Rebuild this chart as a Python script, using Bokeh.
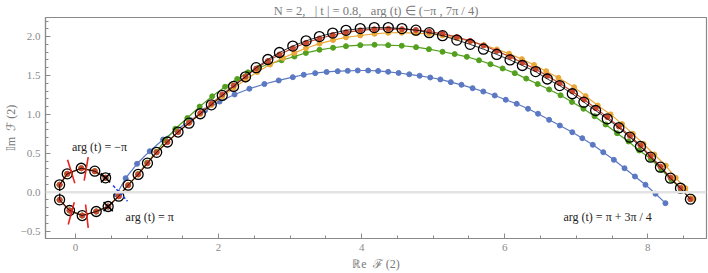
from bokeh.plotting import figure
from bokeh.models import FixedTicker, Span, Range1d
from bokeh.core.properties import value
from bokeh.embed import file_html
from bokeh.resources import INLINE

# ---------------- data ----------------
loop_x = [0.42, 0.269, 0.08, -0.116, -0.223, -0.223, -0.084, 0.093, 0.289, 0.456, 0.604]
loop_y = [0.185, 0.27, 0.308, 0.236, 0.095, -0.098, -0.235, -0.3, -0.248, -0.184, -0.051]

black_arc_x = [0.735, 0.875, 1.005, 1.134, 1.284, 1.433, 1.586, 1.744, 1.898, 2.051, 2.209,
               2.376, 2.525, 2.688, 2.85, 3.037, 3.223, 3.409, 3.595, 3.781, 3.98, 4.176,
               4.372, 4.563, 4.758, 4.944, 5.13, 5.33, 5.516, 5.702, 5.888, 6.074, 6.246,
               6.432, 6.595, 6.767, 6.944, 7.106, 7.27, 7.433, 7.595, 7.748, 7.897, 8.037,
               8.176, 8.316, 8.456, 8.595]
black_arc_y = [0.09, 0.228, 0.373, 0.512, 0.645, 0.773, 0.887, 1.008, 1.123, 1.243, 1.359,
               1.483, 1.6, 1.705, 1.795, 1.878, 1.945, 2.0, 2.045, 2.08, 2.103, 2.115,
               2.115, 2.103, 2.082, 2.05, 2.012, 1.955, 1.9, 1.838, 1.77, 1.70, 1.628,
               1.55, 1.455, 1.37, 1.265, 1.157, 1.05, 0.943, 0.828, 0.707, 0.587, 0.45,
               0.321, 0.18, 0.051, -0.09]

red_arc_x = black_arc_x
red_arc_y = [0.09, 0.228, 0.373, 0.512, 0.645, 0.773, 0.893, 1.018, 1.138, 1.257, 1.372,
             1.487, 1.59, 1.685, 1.77, 1.85, 1.92, 1.975, 2.02, 2.055, 2.08, 2.095,
             2.10, 2.095, 2.085, 2.065, 2.035, 1.995, 1.945, 1.885, 1.815, 1.74, 1.665,
             1.58, 1.495, 1.40, 1.295, 1.19, 1.08, 0.965, 0.845, 0.725, 0.60, 0.465,
             0.33, 0.19, 0.055, -0.09]

orange_arc_x = [0.735, 0.875, 1.005, 1.134, 1.284, 1.433, 1.586, 1.744, 1.898, 2.051, 2.209,
                2.376, 2.54, 2.72, 2.90, 3.06, 3.22, 3.41, 3.60, 3.78, 3.98, 4.18, 4.37,
                4.56, 4.76, 4.94, 5.13, 5.33, 5.52, 5.71, 5.89, 6.06, 6.24, 6.41, 6.58,
                6.75, 6.97, 7.13, 7.30, 7.48, 7.64, 7.79, 7.94, 8.09, 8.25, 8.39, 8.525,
                8.64]
orange_arc_y = [0.09, 0.228, 0.373, 0.512, 0.645, 0.773, 0.89, 1.005, 1.12, 1.23, 1.34,
                1.445, 1.545, 1.64, 1.725, 1.79, 1.85, 1.91, 1.955, 1.99, 2.014, 2.035,
                2.049, 2.05, 2.045, 2.035, 2.014, 1.98, 1.94, 1.89, 1.835, 1.78, 1.71,
                1.635, 1.555, 1.47, 1.35, 1.235, 1.114, 1.0, 0.875, 0.75, 0.62, 0.485,
                0.343, 0.185, 0.051, -0.085]

green_arc_x = [0.735, 0.875, 1.0, 1.13, 1.255, 1.395, 1.563, 1.735, 1.91, 2.09, 2.26,
               2.41, 2.56, 2.71, 2.88, 3.06, 3.22, 3.41, 3.6, 3.78, 3.98, 4.18, 4.37,
               4.56, 4.76, 4.94, 5.13, 5.30, 5.47, 5.64, 5.80, 5.97, 6.14, 6.30, 6.46,
               6.62, 6.78, 6.94, 7.1, 7.255, 7.41, 7.57, 7.73, 7.88, 8.04, 8.19, 8.33,
               8.46, 8.595]
green_arc_y = [0.09, 0.235, 0.38, 0.52, 0.67, 0.815, 0.953, 1.10, 1.232, 1.355, 1.455,
               1.54, 1.60, 1.65, 1.695, 1.744, 1.79, 1.83, 1.856, 1.877, 1.89, 1.895,
               1.89, 1.882, 1.864, 1.838, 1.805, 1.775, 1.74, 1.695, 1.645, 1.59, 1.53,
               1.46, 1.39, 1.32, 1.245, 1.16, 1.072, 0.977, 0.87, 0.758, 0.652, 0.536,
               0.429, 0.288, 0.16, 0.04, -0.09]

blue_arc_x = [0.572, 0.70, 0.86, 1.037, 1.224, 1.41, 1.61, 1.81, 2.014, 2.223, 2.43, 2.64,
              2.84, 3.037, 3.19, 3.35, 3.51, 3.665, 3.805, 3.945, 4.09, 4.23, 4.37, 4.516,
              4.665, 4.81, 4.958, 5.1, 5.246, 5.395, 5.55, 5.70, 5.86, 6.014, 6.167,
              6.325, 6.465, 6.62, 6.77, 6.944, 7.084, 7.23, 7.377, 7.525, 7.674, 7.82,
              7.967, 8.107, 8.246]
blue_arc_y = [-0.03, 0.18, 0.365, 0.527, 0.677, 0.80, 0.925, 1.05, 1.165, 1.256, 1.33,
              1.39, 1.436, 1.478, 1.509, 1.53, 1.545, 1.555, 1.56, 1.564, 1.564, 1.558,
              1.547, 1.532, 1.515, 1.496, 1.474, 1.449, 1.414, 1.38, 1.337, 1.294, 1.243,
              1.188, 1.136, 1.072, 1.008, 0.93, 0.857, 0.771, 0.694, 0.609, 0.514, 0.416,
              0.308, 0.202, 0.095, -0.02, -0.141]

# tick marks drawn on the curve (red slashes, black crosses, blue cross)
slash_x0 = [-0.112, 0.177, -0.018, 0.14]
slash_y0 = [0.416, 0.45, -0.129, -0.158]
slash_x1 = [-0.01, 0.121, -0.102, 0.177]
slash_y1 = [0.116, 0.15, -0.415, -0.458]
cross_x = [0.42, 0.456]
cross_y = [0.185, -0.184]
bcross_x0 = [0.525]
bcross_y0 = [0.086]
bcross_x1 = [0.726]
bcross_y1 = [-0.116]

NB = "\u00a0"
label_text = ["arg" + NB + "(t)" + NB + "=" + NB + "−π",
              "arg" + NB + "(t)" + NB + "=" + NB + "π",
              "arg" + NB + "(t)" + NB + "=" + NB + "π" + NB + "+" + NB + "3π" + NB + "/" + NB + "4"]
label_x = [-0.05, 0.70, 6.82]
label_y = [0.58, -0.32, -0.32]

title_text = ("N" + NB + "=" + NB + "2," + NB * 3 + "|" + NB + "t" + NB + "|" + NB + "=" + NB +
              "0.8," + NB * 3 + "arg" + NB + "(t)" + NB + "∈" + NB + "(−π" + NB + "," + NB +
              "7π" + NB + "/" + NB + "4)")

x_ticks = [0, 2, 4, 6, 8]
y_ticks = [-0.5, 0.0, 0.5, 1.0, 1.5, 2.0]
y_tick_labels = ["−0.5", "0.0", "0.5", "1.0", "1.5", "2.0"]

# ---------------- figure ----------------
SERIF = "Liberation Serif"
GRAY = "#8a8a8a"

p = figure(width=708, height=273, output_backend="svg", toolbar_location=None,
           x_range=Range1d(-0.42, 8.82), y_range=Range1d(-0.595, 2.245),
           min_border_left=44, min_border_right=2, min_border_top=17, min_border_bottom=35)
p.title.text = title_text
p.title.align = "center"
p.title.text_font = SERIF
p.title.text_font_size = "12.5px"
p.title.text_font_style = "normal"
p.title.text_color = "#7a7a7a"
p.title.standoff = 0

p.grid.visible = False
p.background_fill_color = "white"
p.border_fill_color = "white"
p.outline_line_color = GRAY
p.outline_line_width = 1.2

for ax in (p.xaxis[0], p.yaxis[0]):
    ax.axis_line_color = GRAY
    ax.axis_line_width = 1.2
    ax.major_tick_line_color = GRAY
    ax.minor_tick_line_color = GRAY
    ax.major_tick_in = 5
    ax.major_tick_out = 0
    ax.minor_tick_in = 3
    ax.minor_tick_out = 0
    ax.major_label_text_font = SERIF
    ax.major_label_text_font_size = "11px"
    ax.major_label_text_color = "#8a8a8a"
    ax.axis_label_text_font = SERIF
    ax.axis_label_text_font_size = "12px"
    ax.axis_label_text_font_style = "normal"
    ax.axis_label_text_color = "#7a7a7a"

p.xaxis.ticker = FixedTicker(ticks=x_ticks, minor_ticks=[v * 0.5 for v in range(-1, 18)])
p.yaxis.ticker = FixedTicker(ticks=y_ticks, minor_ticks=[v * 0.1 for v in range(-5, 23)])
p.yaxis.major_label_overrides = {t: s for t, s in zip(y_ticks, y_tick_labels)}
p.xaxis.major_label_standoff = 5
p.yaxis.major_label_standoff = 5
p.xaxis.axis_label = "ℝe" + NB + NB + "ℱ" + NB + "(2)"
p.yaxis.axis_label = "𝕀m" + NB + NB + "ℱ" + NB + "(2)"
p.xaxis.axis_label_standoff = 3
p.yaxis.axis_label_standoff = 0

p.add_layout(Span(location=0, dimension="width", line_color="#e3e3e3", line_width=2.5))

BLUE = "#5b78c2"
GREEN = "#52a01e"
ORANGE = "#eaa83a"
RED = "#c8452f"

def series(xs, ys, color):
    p.line(xs, ys, line_color=color, line_width=1.2)
    p.scatter(xs, ys, size=5, fill_color=color, line_color=color)

series(loop_x + blue_arc_x, loop_y + blue_arc_y, BLUE)
series(loop_x + green_arc_x, loop_y + green_arc_y, GREEN)
series(loop_x + orange_arc_x, loop_y + orange_arc_y, ORANGE)
series(loop_x + red_arc_x, loop_y + red_arc_y, RED)

bx = loop_x + black_arc_x
by = loop_y + black_arc_y
p.line(bx, by, line_color="black", line_width=0.8)
p.scatter(bx, by, size=10, fill_color=None, line_color="black", line_width=1.3)

p.segment(slash_x0, slash_y0, slash_x1, slash_y1, line_color="#e8231f", line_width=1.6)
p.scatter(cross_x, cross_y, marker="x", size=13, line_color="black", line_width=1.5)
p.segment(bcross_x0, bcross_y0, bcross_x1, bcross_y1, line_color="#1a3cf0",
          line_width=1.5, line_dash="3 2")

p.text(label_x, label_y, text=label_text, text_font=value(SERIF), text_font_size="12px",
       text_color="#222222", text_baseline="middle", text_align="left")

open("out.html", "w").write(file_html(p, INLINE))
